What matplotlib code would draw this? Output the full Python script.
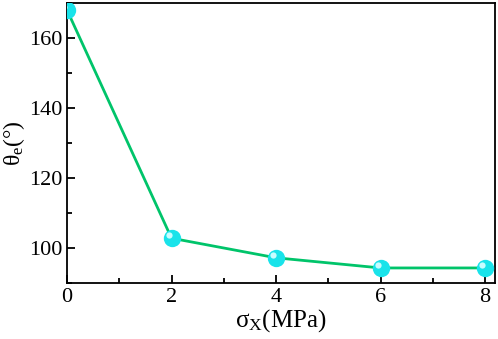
import numpy as np
import matplotlib.pyplot as plt
from matplotlib.ticker import MultipleLocator
from matplotlib.transforms import offset_copy

plt.rcParams['font.family'] = ['Liberation Serif', 'DejaVu Serif']
plt.rcParams['mathtext.fontset'] = 'stix'
plt.rcParams['mathtext.default'] = 'regular'

sigma_x = [0, 2, 4, 6, 8]
theta_e = [168, 102.8, 97.2, 94.3, 94.3]

fig = plt.figure(figsize=(4.98, 3.39), dpi=100)
ax = fig.add_axes([67 / 498, 1 - 283 / 339, (495 - 67) / 498, (283 - 3) / 339])

ax.plot(sigma_x, theta_e, color='#00c46a', lw=2, zorder=2)
ax.plot(sigma_x, theta_e, 'o', ms=12.5, color='#19e3ea', mec='none', zorder=3)
# small highlight for the sphere look
hl = offset_copy(ax.transData, fig=fig, x=-2, y=2, units='points')
ax.plot(sigma_x, theta_e, 'o', ms=4.5, color='#c8fdff', mec='none', zorder=4, transform=hl)

ax.set_xlim(0, 8.19)
ax.set_ylim(90, 170)
ax.xaxis.set_major_locator(MultipleLocator(2))
ax.xaxis.set_minor_locator(MultipleLocator(1))
ax.yaxis.set_major_locator(MultipleLocator(20))
ax.yaxis.set_minor_locator(MultipleLocator(10))
ax.tick_params(which='both', direction='in', top=False, right=False, labelsize=16, width=1.3)
ax.tick_params(which='major', length=6)
ax.tick_params(which='minor', length=3.5)
for s in ax.spines.values():
    s.set_linewidth(1.3)

ax.set_xlabel(r'$\sigma_X$(MPa)', fontsize=18, labelpad=0)
ax.set_ylabel(r'$\theta_e$(°)', fontsize=17, labelpad=1)

fig.savefig('out.png', dpi=100)
